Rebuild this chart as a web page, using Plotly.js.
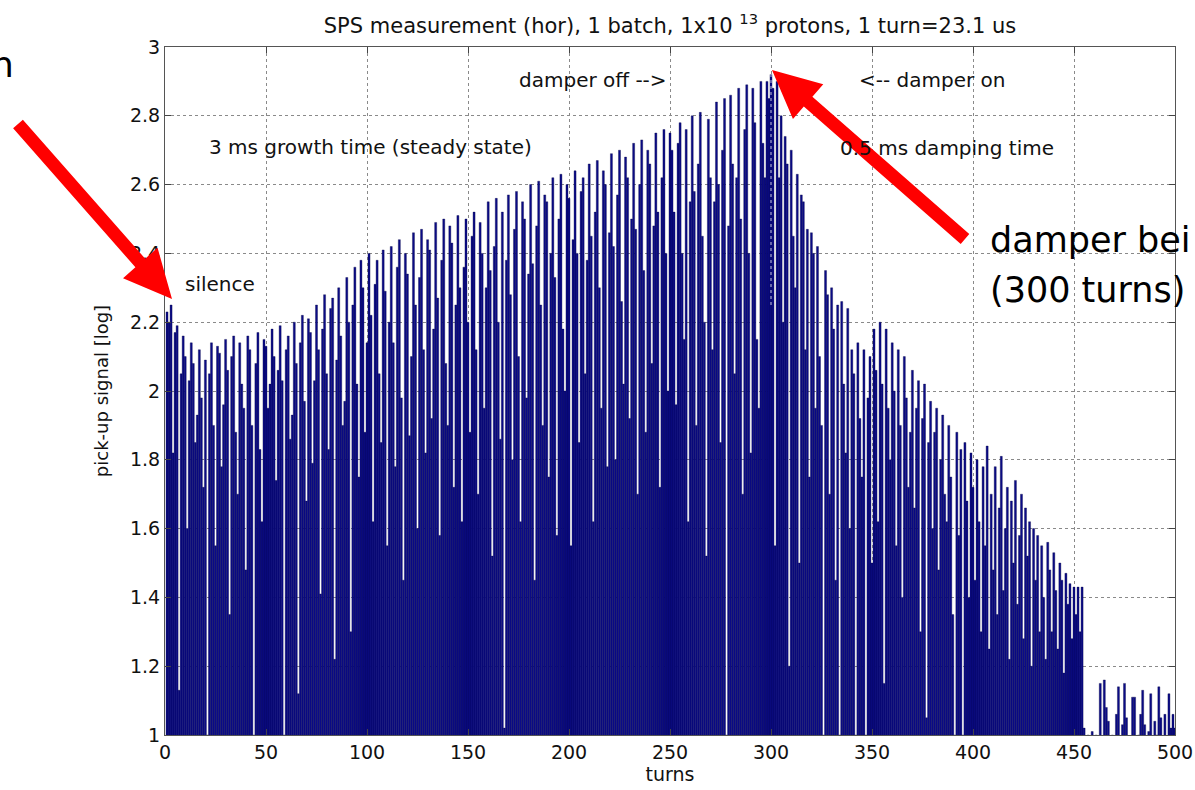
<!DOCTYPE html>
<html>
<head>
<meta charset="utf-8">
<script src="https://cdn.plot.ly/plotly-3.0.1.min.js"></script>
<style>
  html, body { margin: 0; padding: 0; background: #ffffff; }
  #chart { width: 1195px; height: 790px; }
</style>
</head>
<body>
<div id="chart"></div>
<script>
// pick-up signal [log] per turn (turns 1..500)
const seg0 = [2.23,2.20,2.25,1.82,2.17,2.19,1.13,2.05,2.16,2.10,1.60,2.03,2.14,2.08,1.85,1.93,2.12,1.98,1.72,2.09,1.00,2.05,2.14,1.90,1.55,2.13,2.11,1.78,1.96,2.15,2.06,1.35,2.10,2.16,1.88,1.70,2.14,2.02,1.95,1.48,2.16,2.12,1.90,1.00,2.08,2.17,1.83,1.62,2.15,2.13];
const seg1 = [1.95,2.02,2.18,2.10,1.74,2.06,2.19,2.03,1.00,2.12,2.16,1.86,1.93,2.20,2.08,1.12,2.14,2.22,1.97,1.68,2.21,2.17,1.79,2.03,2.25,2.12,1.41,2.18,2.28,2.05,1.83,2.24,2.27,1.22,2.09,2.30,2.16,1.90,1.97,2.33,2.20,1.30,2.25,2.36,2.02,1.75,2.38,2.30,1.88,2.14];
const seg2 = [2.40,2.22,1.62,2.31,2.38,2.05,1.85,2.41,2.29,1.55,2.20,2.42,2.14,1.78,2.36,2.44,1.98,1.45,2.40,2.34,1.87,2.10,2.46,2.25,1.60,2.33,2.47,2.12,1.82,2.44,2.41,1.92,2.18,2.49,2.27,1.58,2.38,2.50,2.08,1.90,2.48,2.43,1.72,2.25,2.51,2.30,1.62,2.36,2.50,2.20];
const seg3 = [1.88,2.45,2.52,2.12,1.70,2.49,2.40,1.95,2.30,2.55,2.35,1.52,2.42,2.56,2.20,1.86,2.52,1.02,2.38,2.57,2.28,1.80,2.47,2.58,2.10,1.62,2.55,2.50,1.98,2.34,2.60,2.37,1.45,2.48,2.61,2.25,1.90,2.57,2.55,1.75,2.40,2.62,2.33,1.58,2.50,2.63,2.18,2.00,2.60,2.56];
const seg4 = [1.55,2.44,2.64,2.40,1.85,2.58,2.62,2.05,2.38,2.66,2.45,1.62,2.52,2.67,2.30,1.95,2.64,2.60,1.78,2.46,2.69,2.42,1.80,2.57,2.70,2.26,2.02,2.68,2.62,1.92,2.50,2.72,2.47,1.70,2.60,2.73,2.35,1.88,2.70,2.66,2.08,2.48,2.75,2.52,1.72,2.62,2.76,2.40,2.00,2.75];
const seg5 = [2.70,2.52,1.96,2.72,2.78,2.40,2.15,2.76,1.62,2.55,2.80,2.58,1.90,2.66,2.81,2.45,2.20,1.52,2.79,2.62,2.12,2.55,2.84,2.60,1.85,2.70,2.85,1.00,2.48,2.86,2.66,2.05,2.62,2.88,2.50,1.70,2.76,2.89,2.40,1.82,2.88,2.78,2.15,1.95,2.90,2.72,2.62,2.90,2.85,2.92];
const seg6 = [2.88,1.55,2.90,2.62,2.80,2.20,2.74,2.66,1.20,2.70,2.45,2.30,2.63,1.50,2.57,2.55,2.12,2.47,1.75,2.46,2.40,1.95,2.42,2.10,1.90,1.00,2.35,2.28,1.70,2.30,2.18,1.45,2.25,1.00,2.26,2.02,1.82,2.24,1.60,2.12,2.05,1.00,2.14,1.92,1.75,2.12,1.00,1.98,2.10,1.50];
const seg7 = [2.18,2.06,1.62,2.20,2.02,1.15,2.18,1.95,1.80,2.14,2.00,1.55,2.12,1.90,1.40,2.10,1.98,1.72,1.88,2.06,1.66,1.95,2.03,1.30,1.92,2.02,1.05,1.85,1.97,1.60,1.88,1.95,1.48,1.80,1.93,1.70,1.62,1.90,1.75,1.35,1.00,1.88,1.58,1.83,1.00,1.85,1.68,1.40,1.82,1.72];
const seg8 = [1.45,1.80,1.62,1.30,1.78,1.55,1.84,1.25,1.70,1.48,1.78,1.35,1.66,1.81,1.42,1.60,1.72,1.22,1.68,1.50,1.74,1.38,1.58,1.70,1.28,1.66,1.52,1.62,1.20,1.60,1.45,1.58,1.30,1.55,1.40,1.22,1.56,1.48,1.30,1.53,1.42,1.25,1.50,1.45,1.18,1.47,1.38,1.44,1.28,1.43];
const seg9 = [1.35,1.43,1.30,1.43,1.02,0.98,1.00,0.97,1.01,0.96,1.00,0.98,1.15,0.97,1.16,1.08,1.04,0.98,1.00,0.97,1.06,1.14,0.98,1.03,1.15,1.05,0.99,0.96,1.11,1.11,0.98,1.00,1.06,1.13,1.03,0.98,1.01,1.12,0.99,1.04,1.00,1.14,1.05,0.97,1.06,0.98,1.12,1.02,1.06,1.02];

const signal = [].concat(seg0, seg1, seg2, seg3, seg4, seg5, seg6, seg7, seg8, seg9);
const turns = signal.map((_, i) => i + 1);

const xTicks = [0, 50, 100, 150, 200, 250, 300, 350, 400, 450, 500];
const yTicks = [1, 1.2, 1.4, 1.6, 1.8, 2, 2.2, 2.4, 2.6, 2.8, 3];

const titleText = 'SPS measurement (hor), 1 batch, 1x10 <sup>13</sup> protons, 1 turn=23.1 us';
const labels = [
  {text: 'damper off -->', x: 212, y: 2.905},
  {text: '<-- damper on', x: 379.5, y: 2.905},
  {text: '3 ms growth time (steady state)', x: 101.5, y: 2.71},
  {text: '0.5 ms damping time', x: 387, y: 2.705},
  {text: 'silence', x: 27, y: 2.31}
];

const FONT = 'DejaVu Sans, Verdana, sans-serif';

// plot-area geometry used only to place the slide's red arrows
const PL = 165, PW = 1010, PT = 47, PH = 688;
function toPaper(px, py) { return [(px - PL) / PW, (PT + PH - py) / PH]; }
function arrowPath(tail, tip, shaft, headW, headL) {
  const dx = tip[0] - tail[0], dy = tip[1] - tail[1];
  const len = Math.hypot(dx, dy);
  const ux = dx / len, uy = dy / len, nx = -uy, ny = ux;
  const nk = [tip[0] - ux * headL, tip[1] - uy * headL];
  const pts = [
    [tail[0] + nx * shaft / 2, tail[1] + ny * shaft / 2],
    [nk[0] + nx * shaft / 2, nk[1] + ny * shaft / 2],
    [nk[0] + nx * headW / 2, nk[1] + ny * headW / 2],
    tip,
    [nk[0] - nx * headW / 2, nk[1] - ny * headW / 2],
    [nk[0] - nx * shaft / 2, nk[1] - ny * shaft / 2],
    [tail[0] - nx * shaft / 2, tail[1] - ny * shaft / 2]
  ].map(p => toPaper(p[0], p[1]));
  return 'M ' + pts.map(p => p[0].toFixed(5) + ' ' + p[1].toFixed(5)).join(' L ') + ' Z';
}

const trace = {
  type: 'bar',
  x: turns,
  y: signal,
  width: 1,
  marker: {color: '#0b0b88', line: {color: '#000040', width: 0.35}},
  hoverinfo: 'x+y'
};

const annotations = labels.map(l => ({
  text: l.text, x: l.x, y: l.y, xref: 'x', yref: 'y',
  showarrow: false, xanchor: 'center', yanchor: 'middle',
  font: {family: FONT, size: 20, color: '#111'}
}));

// overlaid slide text (cut off by the slide edge, as in the reference)
annotations.push({
  text: 'damper bei', xref: 'paper', yref: 'paper', x: 0.8148, y: 0.7195,
  xanchor: 'left', yanchor: 'middle', showarrow: false,
  font: {family: 'DejaVu Sans, sans-serif', size: 35, color: '#000'}
});
annotations.push({
  text: '(300 turns)', xref: 'paper', yref: 'paper', x: 0.8148, y: 0.6468,
  xanchor: 'left', yanchor: 'middle', showarrow: false,
  font: {family: 'DejaVu Sans, sans-serif', size: 35, color: '#000'}
});
annotations.push({
  text: 'h', xref: 'paper', yref: 'paper', x: -0.174, y: 0.974,
  xanchor: 'left', yanchor: 'middle', showarrow: false,
  font: {family: 'DejaVu Sans, sans-serif', size: 36, color: '#000'}
});

const layout = {
  width: 1195, height: 790,
  margin: {l: 165, r: 20, t: 47, b: 55, pad: 0},
  paper_bgcolor: '#ffffff', plot_bgcolor: '#ffffff',
  showlegend: false,
  bargap: 0,
  title: {
    text: titleText, x: 0.5, xref: 'paper', y: 0.968, yref: 'container',
    xanchor: 'center', yanchor: 'middle',
    font: {family: FONT, size: 21, color: '#111'}
  },
  xaxis: {
    range: [0, 500], tickvals: xTicks, ticktext: xTicks.map(String),
    ticks: 'inside', ticklen: 6, tickcolor: '#444',
    showline: true, linecolor: '#555', linewidth: 1, mirror: 'ticks',
    showgrid: true, gridcolor: '#8a8a8a', griddash: 'dot', gridwidth: 1,
    zeroline: false,
    tickfont: {family: FONT, size: 19, color: '#111'},
    title: {text: 'turns', font: {family: FONT, size: 19, color: '#111'}, standoff: 5}
  },
  yaxis: {
    range: [1, 3], tickvals: yTicks, ticktext: yTicks.map(String),
    ticks: 'inside', ticklen: 6, tickcolor: '#444',
    showline: true, linecolor: '#555', linewidth: 1, mirror: 'ticks',
    showgrid: true, gridcolor: '#8a8a8a', griddash: 'dot', gridwidth: 1,
    zeroline: false,
    tickfont: {family: FONT, size: 19, color: '#111'},
    title: {text: 'pick-up signal [log]', font: {family: FONT, size: 18, color: '#111'}, standoff: 16}
  },
  shapes: [
    {type: 'line', xref: 'x', yref: 'y', x0: 300, x1: 300, y0: 2.25, y1: 2.93,
     line: {color: 'rgba(220,220,235,0.9)', width: 1, dash: 'dot'}, layer: 'above'},
    {type: 'path', xref: 'paper', yref: 'paper', layer: 'above',
     path: arrowPath([18, 124], [172, 299], 13, 46, 48),
     fillcolor: '#ff0000', line: {width: 0}},
    {type: 'path', xref: 'paper', yref: 'paper', layer: 'above',
     path: arrowPath([965, 239], [772, 70], 13, 46, 48),
     fillcolor: '#ff0000', line: {width: 0}}
  ],
  annotations: annotations
};

Plotly.newPlot('chart', [trace], layout, {displayModeBar: false, staticPlot: true});
</script>
</body>
</html>
